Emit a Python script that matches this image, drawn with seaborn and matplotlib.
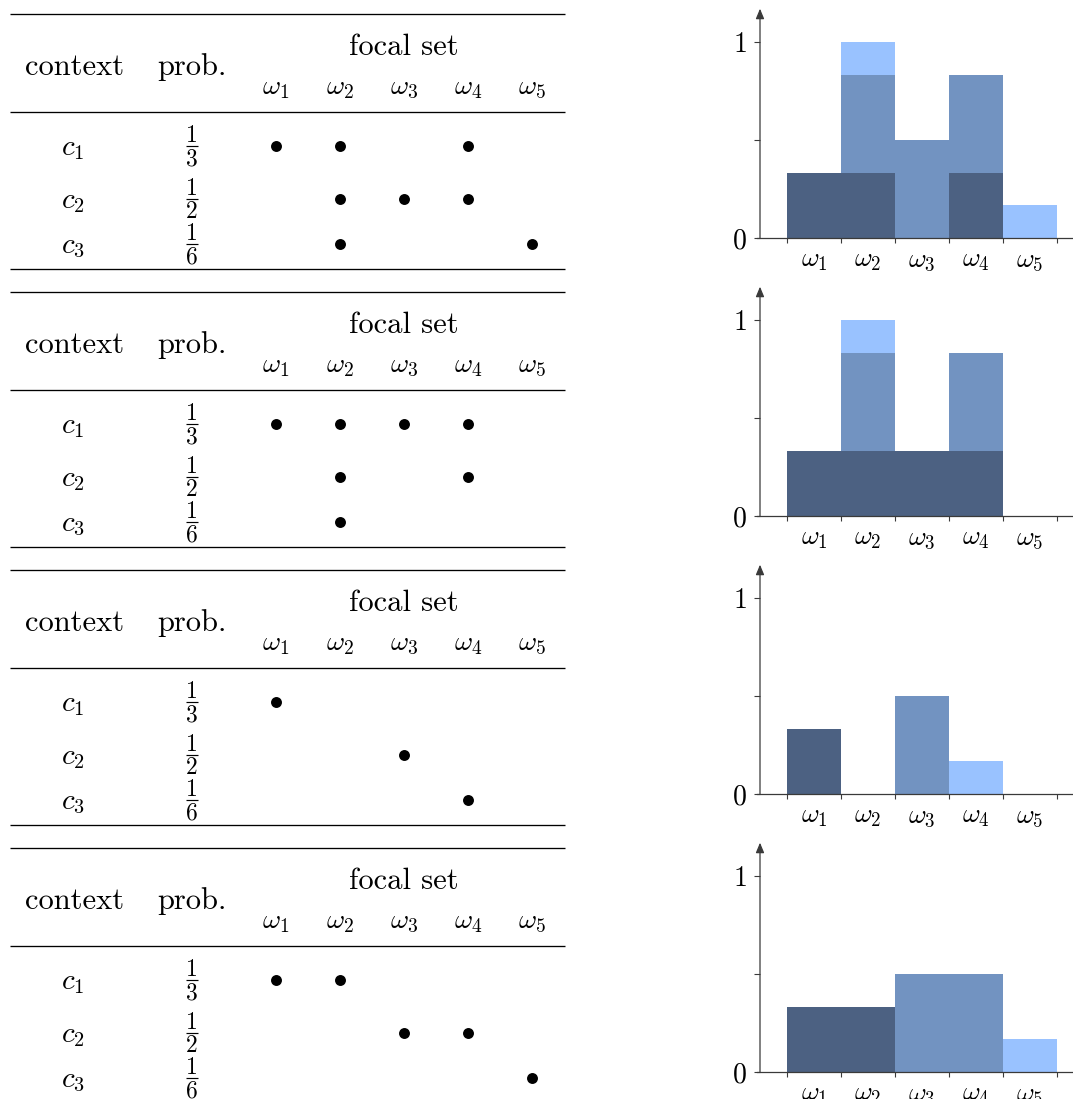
import numpy as np
import pandas as pd
import matplotlib
matplotlib.use('Agg')
import matplotlib.pyplot as plt
import seaborn as sns

# ---------------- data ----------------
contexts = ['c1', 'c2', 'c3']
context_labels = [r'$c_1$', r'$c_2$', r'$c_3$']
probs = [1/3, 1/2, 1/6]
prob_labels = ['1/3', '1/2', '1/6']
omegas = [1, 2, 3, 4, 5]
omega_labels = [r'$\omega_1$', r'$\omega_2$', r'$\omega_3$', r'$\omega_4$', r'$\omega_5$']

focal_sets_a = [[1, 2, 4], [2, 3, 4], [2, 5]]
focal_sets_b = [[1, 2, 3, 4], [2, 4], [2]]
focal_sets_c = [[1], [3], [4]]
focal_sets_d = [[1, 2], [3, 4], [5]]
scenarios = [focal_sets_a, focal_sets_b, focal_sets_c, focal_sets_d]

colors = {'c1': '#4c6182', 'c2': '#7293c1', 'c3': '#99c2ff'}

# ---------------- style ----------------
sns.set_style('white')
plt.rcParams['font.family'] = 'serif'
plt.rcParams['font.serif'] = ['cmr10']
plt.rcParams['mathtext.fontset'] = 'cm'
plt.rcParams['axes.formatter.use_mathtext'] = True
plt.rcParams['axes.unicode_minus'] = False
plt.rcParams['text.color'] = 'black'
plt.rcParams['xtick.labelcolor'] = 'black'
plt.rcParams['ytick.labelcolor'] = 'black'

W, H = 1073, 1099
fig = plt.figure(figsize=(W / 100, H / 100), dpi=100)


def px_axes(x0, y0, x1, y1):
    return fig.add_axes([x0 / W, 1 - y1 / H, (x1 - x0) / W, (y1 - y0) / H])


BLOCK = 278
col_x = {j: 276 + 64 * (j - 1) for j in omegas}
row_y = {'c1': 146, 'c2': 199, 'c3': 244}
AX_COL = '#3a3a3a'

for i, fs in enumerate(scenarios):
    off = BLOCK * i
    records = []
    for k, ctx in enumerate(contexts):
        for om in fs[k]:
            records.append({'context': ctx, 'omega': om, 'prob': probs[k]})
    df = pd.DataFrame(records)
    df['x_px'] = df['omega'].map(col_x)
    df['y_px'] = df['context'].map(row_y)

    # ---------- table ----------
    tab = px_axes(0, off, 600, off + BLOCK)
    tab.set_xlim(0, 600)
    tab.set_ylim(BLOCK, 0)
    tab.axis('off')
    for yy in (14, 112, 269):
        tab.plot([10, 565], [yy, yy], color='black', lw=0.95, solid_capstyle='butt')
    tab.text(404, 55, 'focal set', ha='center', va='baseline', fontsize=22)
    tab.text(75, 75, 'context', ha='center', va='baseline', fontsize=22)
    tab.text(192, 75, 'prob.', ha='center', va='baseline', fontsize=22)
    for j, lab in zip(omegas, omega_labels):
        tab.text(col_x[j], 94, lab, ha='center', va='baseline', fontsize=20)
    for ctx, clab, plab in zip(contexts, context_labels, prob_labels):
        tab.text(73, row_y[ctx] + 9, clab, ha='center', va='baseline', fontsize=21)
        num, den = plab.split('/')
        bar_y = row_y[ctx]
        tab.text(192, bar_y - 4, num, ha='center', va='baseline', fontsize=17)
        tab.text(192, bar_y + 19, den, ha='center', va='baseline', fontsize=17)
        tab.plot([186, 198], [bar_y, bar_y], color='black', lw=0.85,
                 solid_capstyle='butt')
    sns.scatterplot(data=df, x='x_px', y='y_px', color='black', s=62,
                    linewidth=0, legend=False, ax=tab)
    tab.set_xlim(0, 600)
    tab.set_ylim(BLOCK, 0)
    tab.axis('off')

    # ---------- bar chart ----------
    ytop = 1.17
    ch = px_axes(757.3, off + 238 - ytop * 196, 1073, off + 238)
    sns.histplot(data=df, x='omega', hue='context', weights='prob',
                 multiple='stack', discrete=True, shrink=1,
                 hue_order=['c3', 'c2', 'c1'], palette=colors,
                 alpha=1, linewidth=0, legend=False, ax=ch)
    ch.set_xlim(-0.05, 5.8)
    ch.set_ylim(0, ytop)
    ch.set_xlabel('')
    ch.set_ylabel('')
    ch.patch.set_alpha(0)
    for s in ('top', 'right'):
        ch.spines[s].set_visible(False)
    ch.spines['left'].set_position(('data', 0))
    ch.spines['left'].set_visible(False)
    ch.spines['bottom'].set_color(AX_COL)
    ch.spines['bottom'].set_linewidth(0.9)
    ch.annotate('', xy=(0, ytop), xytext=(0, 0),
                arrowprops=dict(arrowstyle='-|>,head_length=0.6,head_width=0.25',
                                color=AX_COL, lw=0.9, shrinkA=0, shrinkB=0),
                annotation_clip=False)
    ch.set_xticks([0.5 + k for k in range(6)])
    ch.set_xticklabels([])
    ch.set_xticks(omegas, minor=True)
    ch.set_xticklabels(omega_labels, minor=True, fontsize=19.5)
    ch.tick_params(axis='x', which='major', bottom=True, direction='out',
                   length=3.8, width=0.8, color=AX_COL)
    ch.tick_params(axis='x', which='minor', bottom=True, length=0, pad=8)
    ch.set_yticks([0, 1])
    ch.set_yticklabels(['0', '1'], fontsize=20)
    ch.set_yticks([0.5], minor=True)
    ch.tick_params(axis='y', which='both', left=True, direction='out',
                   length=4.3, width=0.8, color=AX_COL, pad=5)

fig.savefig('out.png', dpi=100)
